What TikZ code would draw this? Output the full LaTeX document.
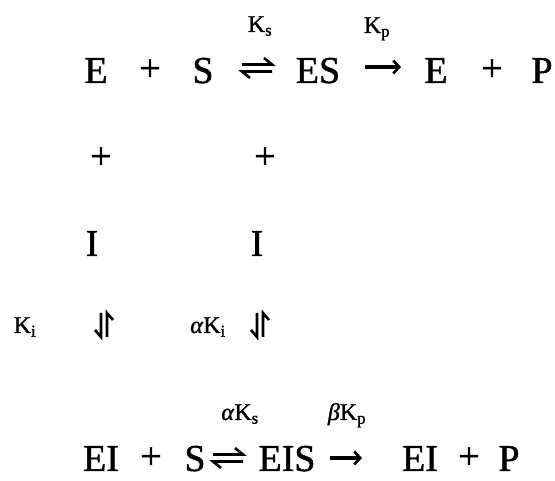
\documentclass[tikz,border=0pt]{standalone}
\usepackage{fontspec}
\setmainfont{Liberation Serif}
\newfontfamily\hv{Liberation Serif}[FakeBold=1.2]
\usetikzlibrary{arrows.meta}
\begin{document}
\begin{tikzpicture}[x=1pt,y=-1pt,
  big/.style={font=\hv\fontsize{38}{40}\selectfont, inner sep=0pt, anchor=base},
  plus/.style={font=\hv\fontsize{38}{40}\selectfont, inner sep=0pt, anchor=center},
  lab/.style={font=\hv\fontsize{24}{26}\selectfont, inner sep=0pt, anchor=base},
  harp/.style={line width=2.6pt, line cap=butt, line join=miter},
  fwd/.style={line width=3.2pt, -{Straight Barb[length=6pt,width=13pt,line width=2.6pt]}},
  eqarr/.pic={
    \draw[harp] (-15,-3.5) -- (15,-3.5) -- (7,-10);
    \draw[harp] (15,3.5) -- (-15,3.5) -- (-7,10);
  },
  vharp/.pic={
    \draw[harp] (-3,-12) -- (-3,12) -- (-9,5);
    \draw[harp] (3,12) -- (3,-12) -- (9,-5);
  }
]
\useasboundingbox (0,0) rectangle (555,481);
% top row
\node[big] (e1) at (96,83) {E};
\node[plus] (p1) at (150,70) {+};
\node[big] (s1) at (203,83) {S};
\pic at (257,68) {eqarr};
\node[big] (es) at (318,83) {ES};
\coordinate (a1s) at (365,67);
\coordinate (a1e) at (401,67);
\draw[fwd] (a1s) -- (a1e);
\node[big] (e2) at (436,83) {E};
\node[plus] (p2) at (492,70) {+};
\node[big] (pp) at (542,83) {P};
\node[lab] (ks) at (260,32) {K\textsubscript{s}};
\node[lab] (kp) at (377,33) {K\textsubscript{p}};
% plus row
\node[plus] (p3) at (101,158) {+};
\node[plus] (p4) at (265,158) {+};
% I row
\node[big] (i1) at (92,256) {I};
\node[big] (i2) at (257,256) {I};
% Ki row
\node[lab] (ki) at (25,333) {K\textsubscript{i}};
\pic at (104,325) {vharp};
\node[lab] (aki) at (208,333) {\textit{α}K\textsubscript{i}};
\pic at (260,325) {vharp};
% bottom labels
\node[lab] (aks) at (240,420) {\textit{α}K\textsubscript{s}};
\node[lab] (bkp) at (347,420) {\textit{β}K\textsubscript{p}};
% bottom row
\node[big] (ei1) at (101,471) {EI};
\node[plus] (p5) at (151,458) {+};
\node[big] (s2) at (195,471) {S};
\pic at (228,458) {eqarr};
\node[big] (eis) at (287,471) {EIS};
\coordinate (a2s) at (330,458);
\coordinate (a2e) at (362,458);
\draw[fwd] (a2s) -- (a2e);
\node[big] (ei2) at (420,471) {EI};
\node[plus] (p6) at (469,458) {+};
\node[big] (pp2) at (509,471) {P};
\end{tikzpicture}
\end{document}
